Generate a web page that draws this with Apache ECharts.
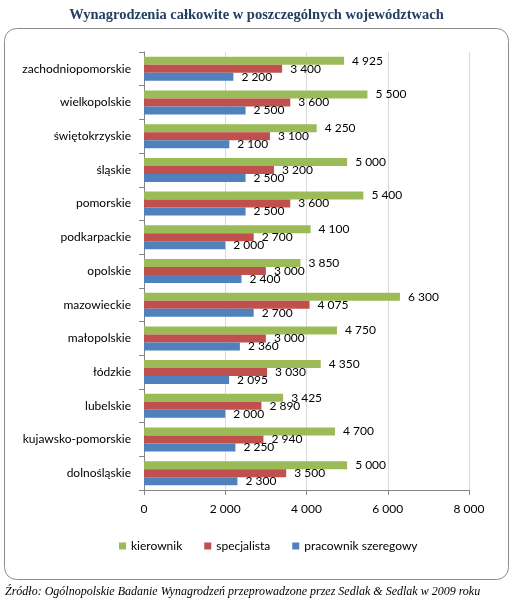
<!DOCTYPE html>
<html>
<head>
<meta charset="utf-8">
<script src="https://cdn.jsdelivr.net/npm/echarts@6/dist/echarts.min.js"></script>
<style>
  html, body { margin: 0; padding: 0; background: #fff; }
  #main { width: 513px; height: 609px; }
</style>
</head>
<body>
<div id="main"></div>
<script>
// województwa, od dołu wykresu do góry
var regions = ['dolnośląskie', 'kujawsko-pomorskie', 'lubelskie', 'łódzkie', 'małopolskie',
  'mazowieckie', 'opolskie', 'podkarpackie', 'pomorskie', 'śląskie', 'świętokrzyskie',
  'wielkopolskie', 'zachodniopomorskie'];
var kierownik = [5000, 4700, 3425, 4350, 4750, 6300, 3850, 4100, 5400, 5000, 4250, 5500, 4925];
var specjalista = [3500, 2940, 2890, 3030, 3000, 4075, 3000, 2700, 3600, 3200, 3100, 3600, 3400];
var szeregowy = [2300, 2250, 2000, 2095, 2360, 2700, 2400, 2000, 2500, 2500, 2100, 2500, 2200];

var myChart = echarts.init(document.getElementById('main'));

function fmt(v) {
    return String(v).replace(/\B(?=(\d{3})+(?!\d))/g, ' ');
}

function barSeries(name, data, color) {
    return {
        name: name,
        type: 'bar',
        data: data,
        barWidth: 8,
        barGap: '0%',
        itemStyle: { color: color },
        label: {
            show: true,
            position: 'right',
            distance: 8,
            color: '#000',
            fontFamily: 'Lato',
            fontSize: 12,
            formatter: function (p) { return fmt(p.value); }
        }
    };
}

myChart.setOption({
    animation: false,
    title: {
        text: 'Wynagrodzenia całkowite w poszczególnych województwach',
        left: 'center',
        top: 3,
        textStyle: {
            fontFamily: 'Liberation Serif',
            fontWeight: 'bold',
            fontSize: 14.5,
            color: '#243F60'
        }
    },
    graphic: [
        {
            type: 'rect',
            shape: { x: 4.5, y: 28.5, width: 504, height: 551, r: 12 },
            style: { fill: 'none', stroke: '#8c8c8c', lineWidth: 1 },
            z: -1
        },
        {
            type: 'text',
            left: 5,
            top: 586,
            style: {
                text: 'Źródło: Ogólnopolskie Badanie Wynagrodzeń przeprowadzone przez Sedlak & Sedlak w 2009 roku',
                font: 'italic 12px "Liberation Serif"',
                fill: '#000'
            }
        }
    ],
    legend: {
        data: ['kierownik', 'specjalista', 'pracownik szeregowy'],
        top: 535,
        left: 114,
        itemWidth: 7,
        itemHeight: 7,
        itemGap: 22,
        icon: 'rect',
        textStyle: { fontFamily: 'Lato', fontSize: 12, color: '#000' }
    },
    grid: {
        left: 144,
        right: 44,
        top: 52,
        bottom: 119
    },
    xAxis: {
        type: 'value',
        min: 0,
        max: 8000,
        interval: 2000,
        axisLine: { show: true, lineStyle: { color: '#868686' } },
        axisTick: { show: true, length: 5, lineStyle: { color: '#868686' } },
        axisLabel: {
            margin: 13,
            color: '#000',
            fontFamily: 'Lato',
            fontSize: 12,
            formatter: function (v) { return fmt(v); }
        },
        splitLine: { show: true, lineStyle: { color: '#d9d9d9' } }
    },
    yAxis: {
        type: 'category',
        data: regions,
        axisLine: { show: true, lineStyle: { color: '#868686' } },
        axisTick: { show: true, length: 5, lineStyle: { color: '#868686' } },
        axisLabel: {
            margin: 13,
            color: '#000',
            fontFamily: 'Lato',
            fontSize: 12
        }
    },
    series: [
        barSeries('kierownik', kierownik, '#9BBB59'),
        barSeries('specjalista', specjalista, '#C0504D'),
        barSeries('pracownik szeregowy', szeregowy, '#4F81BD')
    ]
});
</script>
</body>
</html>
